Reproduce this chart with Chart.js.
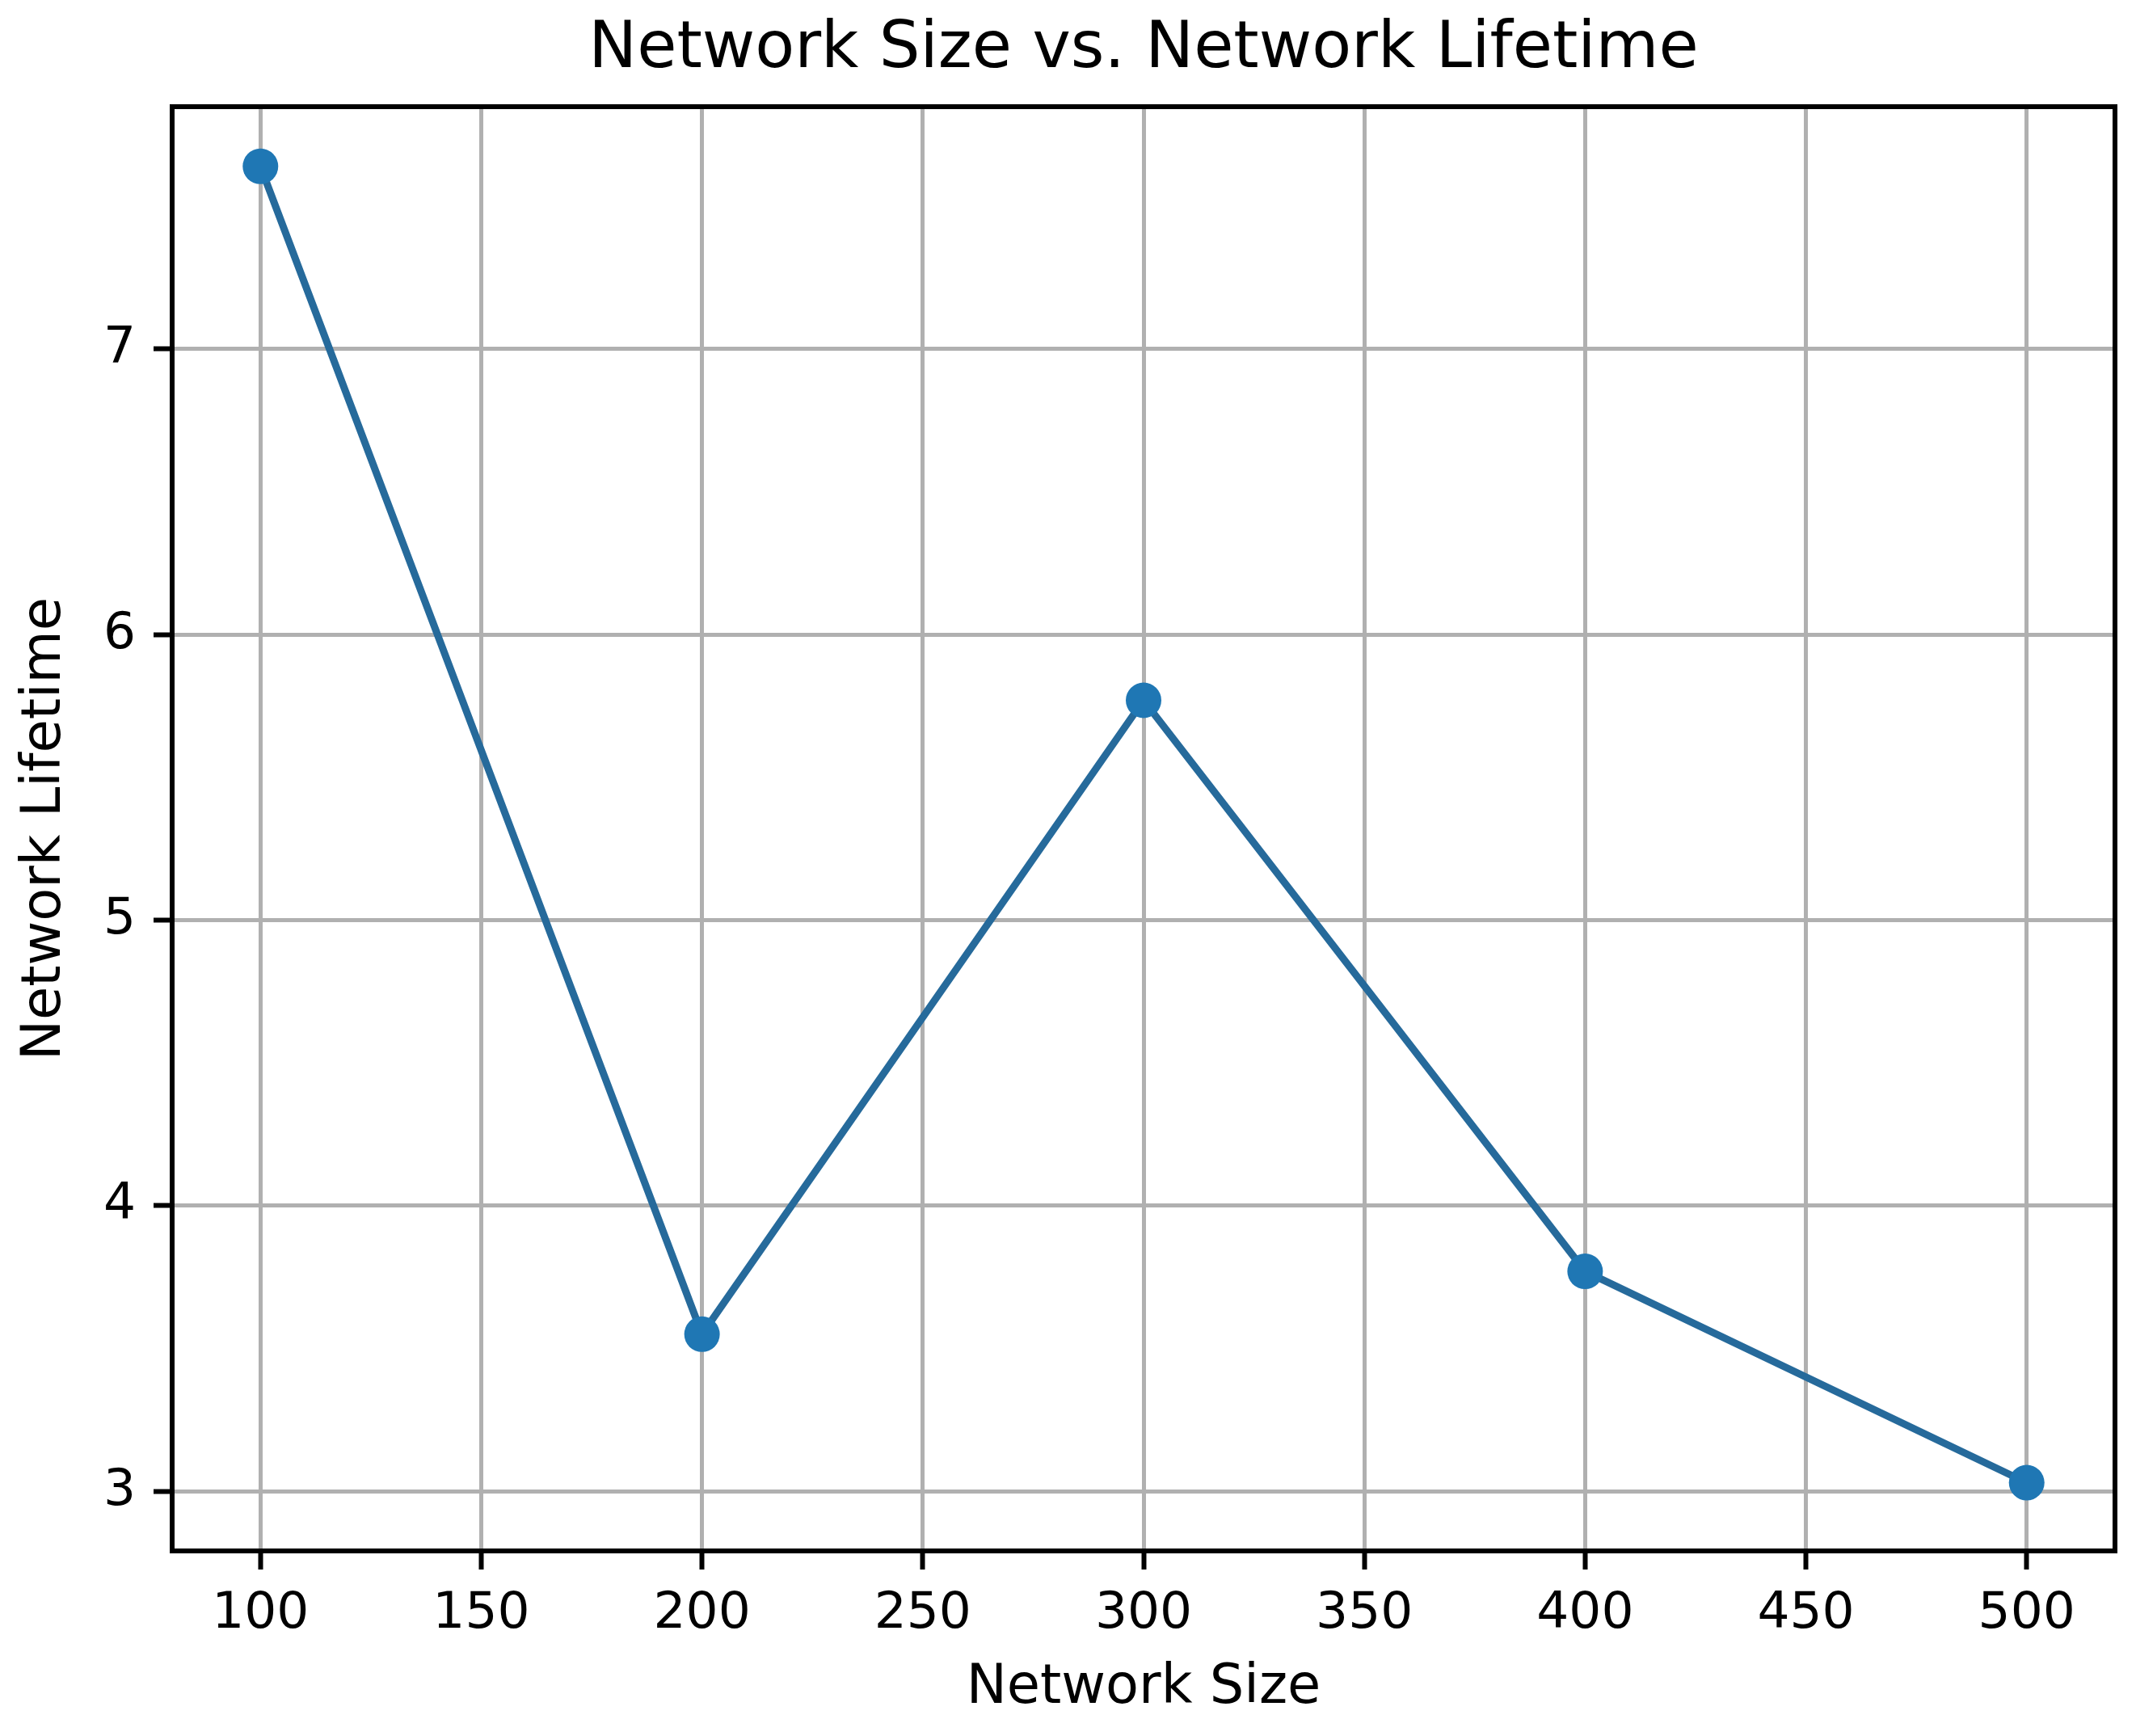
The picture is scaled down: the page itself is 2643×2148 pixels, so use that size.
<!DOCTYPE html>
<html>
<head>
<meta charset="utf-8">
<title>Network Size vs. Network Lifetime</title>
<script src="https://cdn.jsdelivr.net/npm/chart.js@4.4.1/dist/chart.umd.min.js"></script>
<style>
    html, body { margin: 0; padding: 0; background: #fff; }
    #chart { display: block; }
</style>
</head>
<body>
<canvas id="chart" width="2643" height="2148"></canvas>
<script>
"use strict";

// --- data
const networkSizes = [100, 200, 300, 400, 500];
const networkLifetimes = [7.64, 3.55, 5.77, 3.77, 3.03];

const chartTitle = "Network Size vs. Network Lifetime";
const xLabel = "Network Size";
const yLabel = "Network Lifetime";

const FONT = "'DejaVu Sans', sans-serif";

// title centred over the plot area (like matplotlib), not the canvas
const plotTitle = {
    id: "plotTitle",
    afterDraw(chart) {
        const { ctx, chartArea } = chart;
        ctx.save();
        ctx.fillStyle = "#000";
        ctx.font = "80px " + FONT;
        ctx.textAlign = "center";
        ctx.textBaseline = "alphabetic";
        ctx.fillText(chartTitle, (chartArea.left + chartArea.right) / 2, 83);
        ctx.restore();
    },
};

// black box round the axes
const frame = {
    id: "frame",
    afterDraw(chart) {
        const { ctx, chartArea } = chart;
        ctx.save();
        ctx.strokeStyle = "#000";
        ctx.lineWidth = 6;
        ctx.strokeRect(
            chartArea.left,
            chartArea.top,
            chartArea.right - chartArea.left,
            chartArea.bottom - chartArea.top
        );
        ctx.restore();
    },
};

document.addEventListener("DOMContentLoaded", function () {
    const ctx = document.getElementById("chart").getContext("2d");

    const grid = {
        color: "#b0b0b0",
        lineWidth: 5,
        drawTicks: true,
        tickLength: 23,
        tickColor: "#000",
        tickWidth: 6,
    };

    new Chart(ctx, {
        type: "line",
        data: {
            datasets: [
                {
                    data: networkSizes.map((x, i) => ({ x: x, y: networkLifetimes[i] })),
                    borderColor: "#266a9b",
                    borderWidth: 9,
                    backgroundColor: "#1f77b4",
                    pointBackgroundColor: "#1f77b4",
                    pointBorderColor: "#1f77b4",
                    pointBorderWidth: 0,
                    pointRadius: 22,
                    tension: 0,
                    fill: false,
                },
            ],
        },
        plugins: [plotTitle, frame],
        options: {
            responsive: false,
            devicePixelRatio: 1,
            animation: false,
            layout: { padding: { top: 132, right: 26, left: 0, bottom: 0 } },
            plugins: {
                legend: { display: false },
                title: { display: false },
                tooltip: { enabled: false },
            },
            scales: {
                x: {
                    type: "linear",
                    min: 80,
                    max: 520,
                    grid: grid,
                    border: { display: true, color: "#000", width: 6 },
                    ticks: {
                        stepSize: 50,
                        includeBounds: false,
                        color: "#000",
                        padding: 18,
                        maxRotation: 0,
                        font: { family: FONT, size: 63 },
                    },
                    title: {
                        display: true,
                        text: xLabel,
                        color: "#000",
                        padding: { top: 0, bottom: 18 },
                        font: { family: FONT, size: 67 },
                    },
                    afterFit(scale) {
                        scale.height = 229;
                    },
                },
                y: {
                    type: "linear",
                    min: 2.791,
                    max: 7.849,
                    grid: grid,
                    border: { display: true, color: "#000", width: 6 },
                    ticks: {
                        stepSize: 1,
                        includeBounds: false,
                        color: "#000",
                        padding: 22,
                        font: { family: FONT, size: 63 },
                    },
                    title: {
                        display: true,
                        text: yLabel,
                        color: "#000",
                        padding: { top: 16, bottom: 0 },
                        font: { family: FONT, size: 67 },
                    },
                    afterFit(scale) {
                        scale.width = 213;
                    },
                },
            },
        },
    });
});
</script>
</body>
</html>
